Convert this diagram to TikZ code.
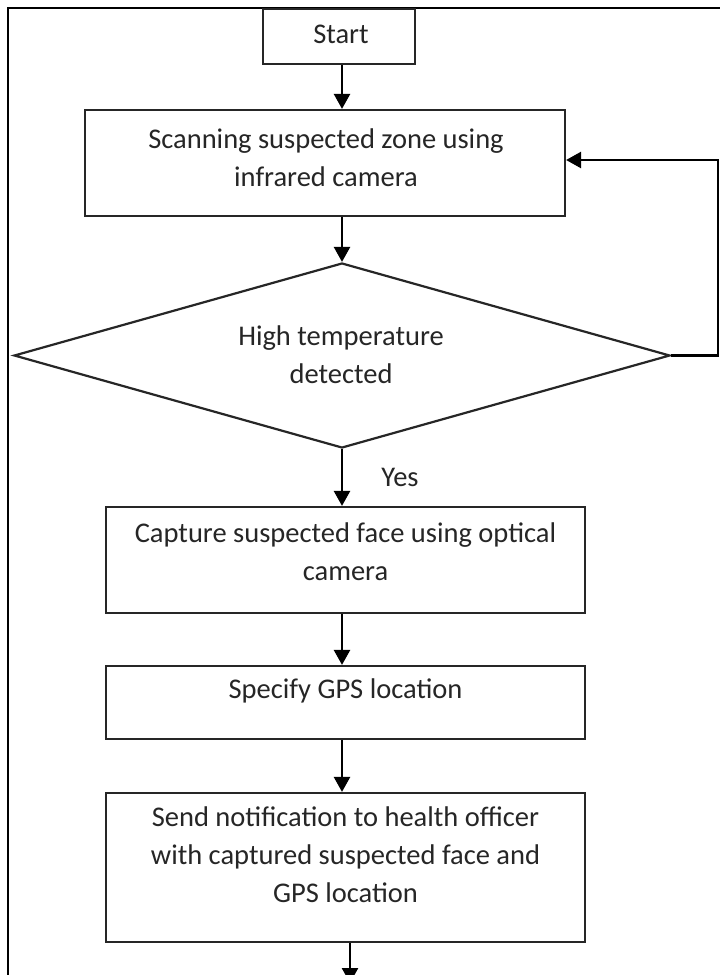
\documentclass[tikz,border=0pt]{standalone}
\usepackage{fontspec}
\setmainfont{Carlito}
\usetikzlibrary{arrows.meta,shapes.geometric}
\begin{document}
\begin{tikzpicture}[x=1pt,y=-1pt,
  box/.style={draw=black!85,line width=2.2pt,rectangle,inner sep=0pt},
  txt/.style={font=\fontsize{28.5}{38}\selectfont,align=center,text=black!85,inner sep=0pt},
  arr/.style={line width=2.5pt,-{Triangle[length=15pt,width=16pt]}},
  frame/.style={line width=1.6pt}]
\clip (0,0) rectangle (720,975);
\useasboundingbox (0,0) rectangle (720,975);
\fill[white] (0,0) rectangle (720,975);
% frame
\draw[frame] (720,8) -- (8,8) -- (8,975);
% nodes
\node[box,minimum width=152pt,minimum height=55pt] (start) at (339,36.5) {};
\node[txt] (startT) at (341,34) {Start};
\node[box,minimum width=480pt,minimum height=106pt] (scan) at (325,163) {};
\node[txt] (scanT) at (326,158) {Scanning suspected zone using\\infrared camera};
\node[draw=black!85,line width=2.2pt,diamond,minimum width=656pt,minimum height=185pt,inner sep=0pt] (dia) at (342,355.5) {};
\node[txt] (diaT) at (341,355) {High temperature\\detected};
\node[box,minimum width=479pt,minimum height=106pt] (cap) at (345.5,560) {};
\node[txt] (capT) at (345.5,552) {Capture suspected face using optical\\camera};
\node[box,minimum width=479pt,minimum height=73pt] (gps) at (345.5,702.5) {};
\node[txt] (gpsT) at (345.5,691) {Specify GPS location};
\node[box,minimum width=479pt,minimum height=149pt] (send) at (345.5,867.5) {};
\node[txt] (sendT) at (345.5,855) {Send notification to health officer\\with captured suspected face and\\GPS location};
\node[txt] (yes) at (400,477) {Yes};
% helper coordinates
\coordinate (ax) at (342,0);
\coordinate (bx) at (350,0);
\coordinate (loopR) at (718,0);
\coordinate (loopY) at (0,160);
\coordinate (endpt) at (350,983);
% connectors
\draw[arr] (start.south -| ax) -- (scan.north -| ax);
\draw[arr] (scan.south -| dia.north) -- (dia.north);
\draw[arr] (dia.south) -- (cap.north -| dia.south);
\draw[arr] (cap.south -| ax) -- (gps.north -| ax);
\draw[arr] (gps.south -| ax) -- (send.north -| ax);
\draw[arr] (send.south -| bx) -- (endpt);
\draw[arr] (dia.east) -- (dia.east -| loopR) -- (loopR |- loopY) -- (scan.east |- loopY);
\end{tikzpicture}
\end{document}
